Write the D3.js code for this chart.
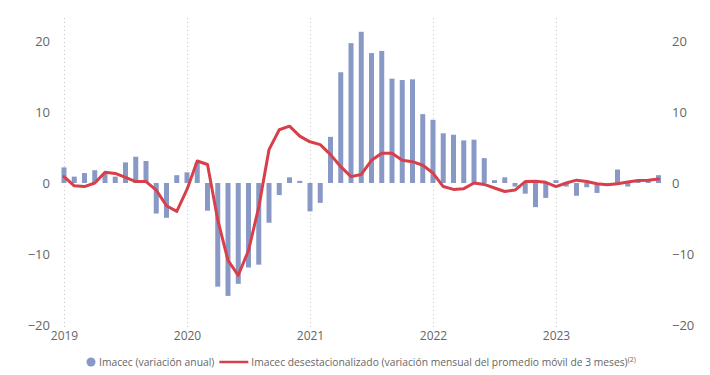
<!DOCTYPE html>
<html>
<head>
<meta charset="utf-8">
<script src="https://cdn.jsdelivr.net/npm/d3@7"></script>
<style>
  html, body { margin: 0; padding: 0; background: #fff; }
  #chart { width: 710px; height: 375px; }
  text { font-family: "Open Sans", "Noto Sans", sans-serif; }
</style>
</head>
<body>
<div id="chart"></div>
<script>
// Monthly series, Jan 2019 .. Nov 2023
const years = ['2019', '2020', '2021', '2022', '2023'];
const yTicks = [-20, -10, 0, 10, 20];

// Imacec, annual % change (bars)
const imacecAnual = [
  2.2, 0.9, 1.4, 1.8, 1.3, 0.9, 2.9, 3.7, 3.1, -4.3, -4.9, 1.1,
  1.5, 2.9, -3.9, -14.6, -15.9, -14.2, -11.9, -11.5, -5.6, -1.7, 0.8, 0.3,
  -4.0, -2.8, 6.5, 15.6, 19.7, 21.3, 18.3, 18.6, 14.7, 14.5, 14.6, 9.7,
  8.9, 7.0, 6.8, 6.0, 6.1, 3.5, 0.4, 0.8, -0.5, -1.5, -3.4, -2.1,
  0.4, -0.5, -1.8, -0.6, -1.4, -0.1, 1.9, -0.5, 0.3, 0.3, 1.1
];

// Seasonally adjusted, monthly change of 3-month moving average (line)
const imacecDesest = [
  0.9, -0.4, -0.5, 0.0, 1.5, 1.35, 0.8, 0.2, 0.2, -1.0, -3.2, -4.0,
  -0.9, 3.1, 2.6, -5.2, -10.9, -13.0, -9.5, -3.4, 4.7, 7.5, 8.0, 6.6,
  5.8, 5.4, 4.0, 2.3, 0.9, 1.2, 3.2, 4.2, 4.2, 3.2, 3.0, 2.5,
  1.4, -0.5, -0.9, -0.8, 0.0, -0.2, -0.7, -1.2, -1.0, 0.2, 0.25, 0.1,
  -0.5, 0.0, 0.4, 0.2, -0.1, -0.25, -0.1, 0.15, 0.35, 0.4, 0.55
];

const legendLabels = [
  'Imacec (variación anual)',
  'Imacec desestacionalizado (variación mensual del promedio móvil de 3 meses)'
];

const BAR_COLOR = '#8899c6';
const LINE_COLOR = '#d7404b';
const TEXT_COLOR = '#666666';

const width = 710;
const height = 375;

const svg = d3.select('#chart').append('svg').attr('width', width).attr('height', height);

// month index -> x (gridlines at each January)
const x = d3.scaleLinear().domain([0, 12]).range([64, 187]);
const y = d3.scaleLinear().domain([-20, 20]).range([325, 41]);

// dotted year gridlines
svg.append('g')
  .selectAll('line')
  .data(years)
  .join('line')
  .attr('x1', (d, i) => Math.round(x(i * 12)) + 0.5)
  .attr('x2', (d, i) => Math.round(x(i * 12)) + 0.5)
  .attr('y1', 18)
  .attr('y2', 330)
  .attr('stroke', '#c8c8c8')
  .attr('stroke-width', 1)
  .attr('stroke-dasharray', '1,3');

// bars
const barW = 5;
svg.append('g')
  .selectAll('rect')
  .data(imacecAnual)
  .join('rect')
  .attr('x', (d, i) => x(i) - barW / 2)
  .attr('y', (d) => y(Math.max(0, d)))
  .attr('width', barW)
  .attr('height', (d) => Math.abs(y(d) - y(0)))
  .attr('fill', BAR_COLOR);

// line
const line = d3.line()
  .x((d, i) => x(i))
  .y((d) => y(d));

svg.append('path')
  .datum(imacecDesest)
  .attr('fill', 'none')
  .attr('stroke', LINE_COLOR)
  .attr('stroke-width', 3)
  .attr('stroke-linejoin', 'round')
  .attr('stroke-linecap', 'round')
  .attr('d', line);

// left and right value axes
const axisLeft = svg.append('g')
  .attr('transform', 'translate(50,0)')
  .call(d3.axisLeft(y).tickValues(yTicks).tickSize(0).tickPadding(0));
const axisRight = svg.append('g')
  .attr('transform', 'translate(672,0)')
  .call(d3.axisRight(y).tickValues(yTicks).tickSize(0).tickPadding(0));

[axisLeft, axisRight].forEach((g) => {
  g.select('.domain').remove();
  g.selectAll('text')
    .attr('fill', TEXT_COLOR)
    .style('font-size', '13px')
    .style('font-family', '"Open Sans", "Noto Sans", sans-serif');
});

// year labels
const axisBottom = svg.append('g')
  .attr('transform', 'translate(0,331)')
  .call(d3.axisBottom(x).tickValues(years.map((d, i) => i * 12)).tickFormat((d) => years[d / 12]).tickSize(0).tickPadding(0));
axisBottom.select('.domain').remove();
axisBottom.selectAll('text')
  .attr('fill', TEXT_COLOR)
  .style('font-size', '12px')
  .style('font-family', '"Open Sans", "Noto Sans", sans-serif');

// legend, laid out left to right from measured text widths
const legend = svg.append('g').attr('transform', 'translate(0,362)');
legend.append('circle').attr('cx', 91).attr('cy', 0).attr('r', 4.5).attr('fill', BAR_COLOR);
const t1 = legend.append('text')
  .attr('x', 99).attr('y', 3.5)
  .attr('fill', TEXT_COLOR)
  .style('font-size', '10.3px')
  .text(legendLabels[0]);
const lx = 99 + t1.node().getComputedTextLength() + 5;
legend.append('line')
  .attr('x1', lx).attr('x2', lx + 29)
  .attr('y1', 0).attr('y2', 0)
  .attr('stroke', LINE_COLOR)
  .attr('stroke-width', 2.5);
const t2 = legend.append('text')
  .attr('x', lx + 32).attr('y', 3.5)
  .attr('fill', TEXT_COLOR)
  .style('font-size', '10.3px');
t2.append('tspan').text(legendLabels[1]);
t2.append('tspan').attr('dy', -4).style('font-size', '7px').text('(2)');
</script>
</body>
</html>
